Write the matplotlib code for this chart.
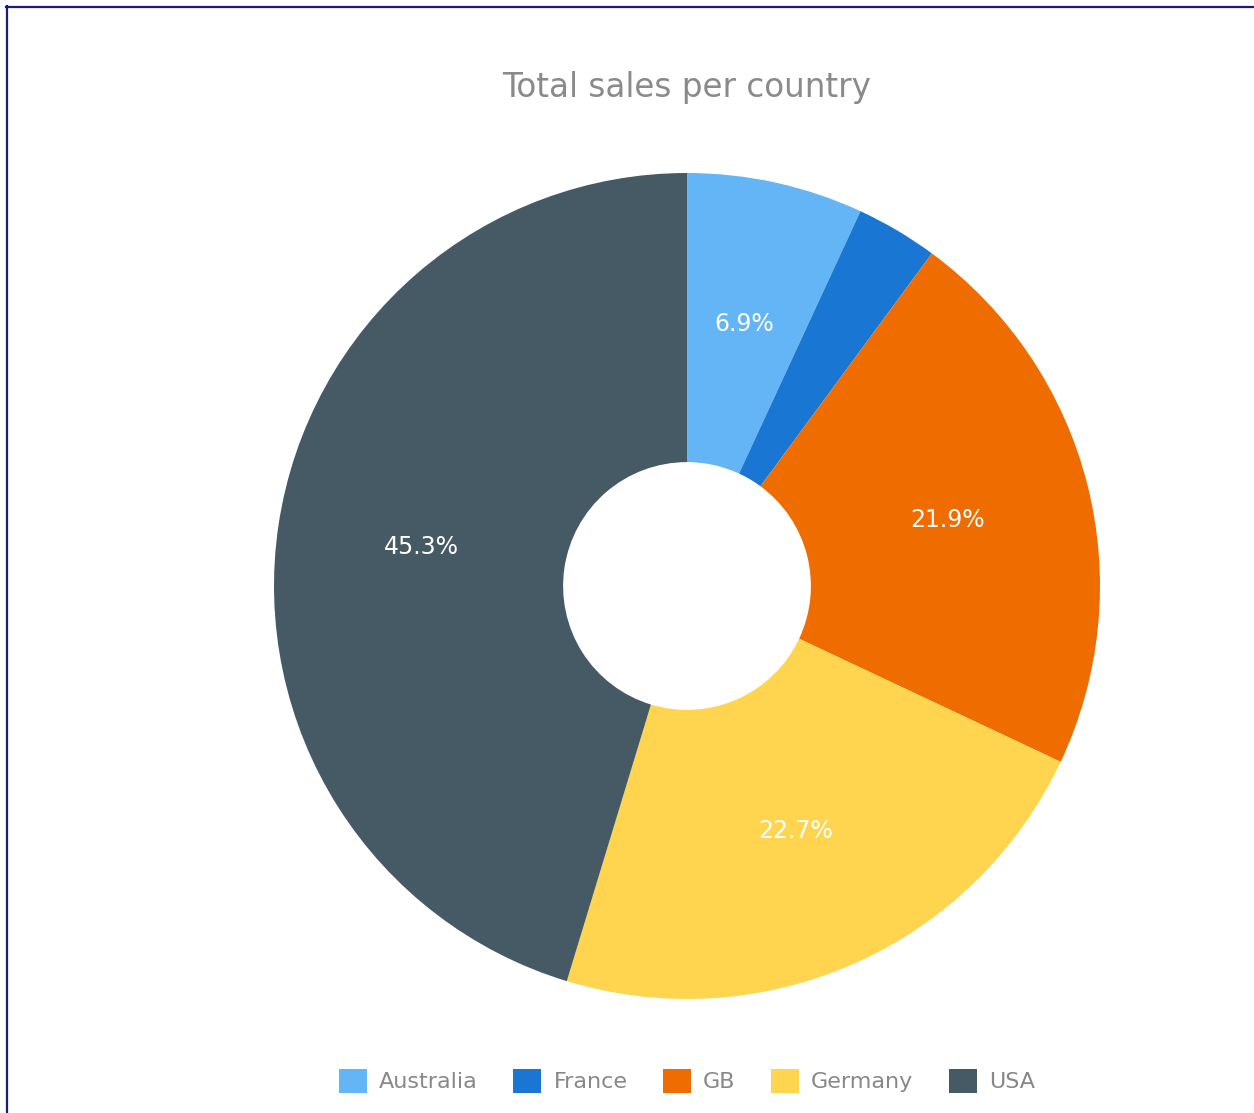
import matplotlib
matplotlib.use("Agg")
import matplotlib.pyplot as plt
from matplotlib.patches import Patch
from matplotlib.lines import Line2D

countries = ["Australia", "France", "GB", "Germany", "USA"]
shares = [6.9, 3.2, 21.9, 22.7, 45.3]
colors = ["#64b5f6", "#1976d2", "#ef6c00", "#ffd54f", "#455a64"]

plt.rcParams["font.family"] = ["DejaVu Sans"]

W, H = 1254, 1113
fig = plt.figure(figsize=(W / 100, H / 100), dpi=100)
fig.patch.set_facecolor("white")

# donut axes: centre (687, 586) px, outer radius 413 px
cx, cy, r = 687, 586, 413
ax = fig.add_axes([(cx - r) / W, (H - cy - r) / H, 2 * r / W, 2 * r / H])


def fmt(p):
    return f"{p:.1f}%" if p >= 5 else ""


wedges, texts, autotexts = ax.pie(
    shares,
    colors=colors,
    startangle=90,
    counterclock=False,
    radius=1.0,
    autopct=fmt,
    pctdistance=0.65,
    wedgeprops=dict(width=0.70, linewidth=0),
    textprops=dict(color="white", fontsize=17),
)
ax.set_xlim(-1, 1)
ax.set_ylim(-1, 1)
ax.set_aspect("equal")
ax.axis("off")

fig.text(cx / W, 1 - 88 / H, "Total sales per country", ha="center", va="center",
         fontsize=23.5, color="#8a8a8a")

handles = [Patch(facecolor=c, edgecolor="none", label=n) for c, n in zip(colors, countries)]
leg = fig.legend(
    handles=handles,
    loc="center",
    bbox_to_anchor=(687 / W, 1 - 1081 / H),
    ncol=5,
    frameon=False,
    fontsize=16,
    handlelength=1.25,
    handleheight=1.25,
    handletextpad=0.55,
    columnspacing=1.6,
    labelcolor="#888888",
)

# thin navy frame along the top and left edges
fig.add_artist(Line2D([6 / W, 1], [1 - 6.5 / H, 1 - 6.5 / H], transform=fig.transFigure,
                      color="#1c1c78", linewidth=1.6))
fig.add_artist(Line2D([6.5 / W, 6.5 / W], [0, 1 - 6 / H], transform=fig.transFigure,
                      color="#1c1c78", linewidth=1.6))

fig.savefig("out.png", dpi=100, facecolor="white")
